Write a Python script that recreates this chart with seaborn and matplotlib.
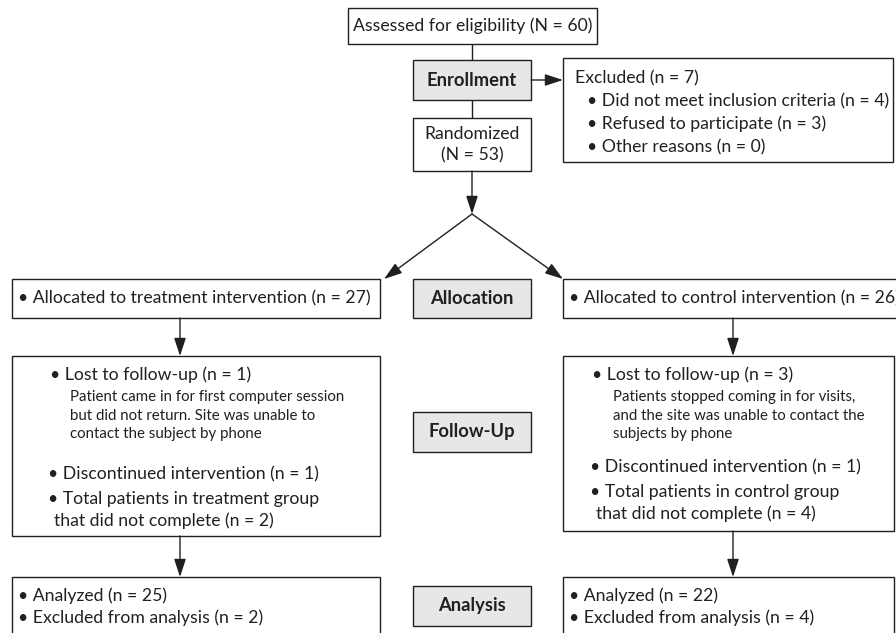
import matplotlib
matplotlib.use("Agg")
import matplotlib.pyplot as plt
import seaborn as sns
import pandas as pd
from matplotlib.patches import Rectangle

# ---------------- data ----------------
assessed_n = 60
excluded_n = 7
excluded_reasons = ["Did not meet inclusion criteria", "Refused to participate", "Other reasons"]
excluded_counts = [4, 3, 0]
randomized_n = 53
groups = ["treatment", "control"]
allocated_counts = [27, 26]
lost_counts = [1, 3]
lost_notes = [
    ["Patient came in for first computer session",
     "but did not return. Site was unable to",
     "contact the subject by phone"],
    ["Patients stopped coming in for visits,",
     "and the site was unable to contact the",
     "subjects by phone"],
]
discontinued_counts = [1, 1]
not_complete_counts = [2, 4]
analyzed_counts = [25, 22]
excluded_analysis_counts = [2, 4]
stages = ["Enrollment", "Allocation", "Follow-Up", "Analysis"]

# ---------------- style ----------------
sns.set_theme(style="white")
plt.rcParams['font.family'] = ['Lato', 'DejaVu Sans']
EDGE = "#231f20"
GRAY = "#e6e7e8"
FS = 12.7
FS_BOLD = 13.2
FS_NOTE = 10.8
LW = 1.0

fig = plt.figure(figsize=(8.96, 6.33), dpi=100)
ax = fig.add_axes([0, 0, 1, 1])


def box(x0, y0, x1, y1, fill="white"):
    ax.add_patch(Rectangle((x0, y0), x1 - x0, y1 - y0, facecolor=fill,
                           edgecolor=EDGE, linewidth=LW, zorder=2, clip_on=False))


def txt(x, y, s, size=FS, ha="left", weight="normal"):
    ax.text(x, y, s, fontsize=size, ha=ha, va="center", color=EDGE,
            fontweight=weight, zorder=3)


def arrow(p0, p1):
    ax.annotate("", xy=p1, xytext=p0,
                arrowprops=dict(arrowstyle="-|>,head_length=0.55,head_width=0.18",
                                mutation_scale=20, color=EDGE, lw=LW,
                                shrinkA=0, shrinkB=0), zorder=4)


# plain connector lines via seaborn
seg = pd.DataFrame({
    "x": [472, 472, 472, 472],
    "y": [44, 60, 100, 118],
    "u": [0, 0, 1, 1],
})
sns.lineplot(data=seg, x="x", y="y", units="u", estimator=None, sort=False,
             color=EDGE, lw=LW, ax=ax, legend=False)
ax.set_xlim(0, 896)
ax.set_ylim(633, 0)
ax.axis("off")

# ---------- Enrollment ----------
box(348, 8, 597, 44)
txt(473, 26, f"Assessed for eligibility (N = {assessed_n})", ha="center")

box(413, 60, 531, 100, GRAY)
txt(472, 80, stages[0], ha="center", weight="bold", size=FS_BOLD)

arrow((531, 80), (563, 80))
box(563, 58, 893, 162)
txt(575, 78, f"Excluded (n = {excluded_n})")
for i, (r, c) in enumerate(zip(excluded_reasons, excluded_counts)):
    txt(587, 101 + 23 * i, f"\u2022 {r} (n = {c})")

box(413, 118, 531, 171)
txt(472, 134, "Randomized", ha="center")
txt(472, 155, f"(N = {randomized_n})", ha="center")

arrow((472, 171), (472, 214))
arrow((472, 214), (384, 279))
arrow((472, 214), (563, 279))

# ---------- stage labels ----------
box(413, 279, 531, 318, GRAY)
txt(472, 298, stages[1], ha="center", weight="bold", size=FS_BOLD)

box(413, 412, 531, 452, GRAY)
txt(472, 432, stages[2], ha="center", weight="bold", size=FS_BOLD)

box(413, 586, 531, 626, GRAY)
txt(472, 606, stages[3], ha="center", weight="bold", size=FS_BOLD)

col_x0 = [12, 563]
col_x1 = [380, 905]
arr_x = [180, 733]
fu_bottom = [536, 531]
bullet_x = [50, 592]
note_x = [70, 613]
disc_y = [[474, 499, 521], [467, 492, 514]]

for g in range(2):
    x0, x1 = col_x0[g], col_x1[g]
    # allocation
    box(x0, 279, x1, 318)
    txt(x0 + 6, 298, f"\u2022 Allocated to {groups[g]} intervention (n = {allocated_counts[g]})")
    arrow((arr_x[g], 318), (arr_x[g], 356))
    # follow-up
    box(x0, 356, min(x1, 894), fu_bottom[g])
    txt(bullet_x[g], 375, f"\u2022 Lost to follow-up (n = {lost_counts[g]})")
    for k, line in enumerate(lost_notes[g]):
        txt(note_x[g], 397 + 18.5 * k, line, size=FS_NOTE)
    y1, y2, y3 = disc_y[g]
    txt(bullet_x[g] - 2, y1, f"\u2022 Discontinued intervention (n = {discontinued_counts[g]})")
    txt(bullet_x[g] - 2, y2, f"\u2022 Total patients in {groups[g]} group")
    txt(bullet_x[g] + 4, y3, f"that did not complete (n = {not_complete_counts[g]})")
    arrow((arr_x[g], fu_bottom[g]), (arr_x[g], 577))
    # analysis
    box(x0, 577, min(x1, 894), 660)
    txt(x0 + 6, 596, f"\u2022 Analyzed (n = {analyzed_counts[g]})")
    txt(x0 + 6, 618, f"\u2022 Excluded from analysis (n = {excluded_analysis_counts[g]})")

fig.savefig("out.png", dpi=100)
